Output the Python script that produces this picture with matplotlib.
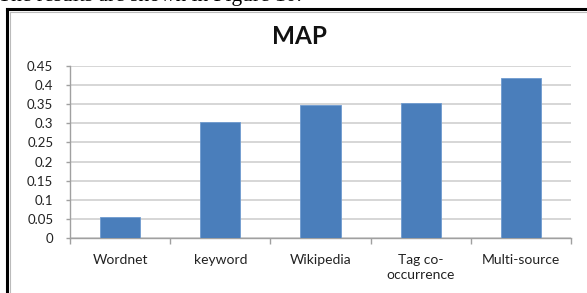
import matplotlib
matplotlib.use("Agg")
import matplotlib.pyplot as plt
from matplotlib.lines import Line2D
import numpy as np

categories = ["Wordnet", "keyword", "Wikipedia", "Tag co-\noccurrence", "Multi-source"]
values = [0.055, 0.303, 0.347, 0.354, 0.418]
yticks = [0, 0.05, 0.1, 0.15, 0.2, 0.25, 0.3, 0.35, 0.4, 0.45]
ytick_labels = ["0", "0.05", "0.1", "0.15", "0.2", "0.25", "0.3", "0.35", "0.4", "0.45"]

W, H = 587, 293
fig = plt.figure(figsize=(W / 100, H / 100), dpi=100)
fig.patch.set_facecolor("white")

ax = fig.add_axes([70 / W, 1 - 238 / H, (571 - 70) / W, (238 - 66) / H])
x = np.arange(len(categories))
ax.bar(x, values, width=0.4, color="#4a7ebb", edgecolor="#6f9bd0", linewidth=0.6, zorder=3)
ax.set_xlim(-0.5, len(categories) - 0.5)
ax.set_ylim(0, 0.45)
ax.set_yticks(yticks)
ax.set_yticklabels(ytick_labels)
ax.set_xticks(x)
ax.set_xticklabels(categories, linespacing=1.3)
ax.set_xticks(np.arange(-0.5, len(categories), 1.0), minor=True)

fnt = "Lato"
for lab in ax.get_xticklabels():
    lab.set_fontfamily(fnt)
    lab.set_fontsize(10)
    lab.set_color("#222222")
for lab in ax.get_yticklabels():
    lab.set_fontfamily(fnt)
    lab.set_fontsize(9.5)
    lab.set_color("#222222")

ax.tick_params(axis="x", which="major", length=0, pad=11.5)
ax.tick_params(axis="x", which="minor", length=4, color="#a0a0a0", width=1)
ax.tick_params(axis="y", length=3, color="#a0a0a0", width=1, pad=9)
ax.grid(axis="y", color="#d0d0d0", linewidth=1.2, zorder=0)
for s in ["top", "right"]:
    ax.spines[s].set_visible(False)
ax.spines["left"].set_color("#a0a0a0")
ax.spines["bottom"].set_color("#a0a0a0")
ax.spines["left"].set_linewidth(1)
ax.spines["bottom"].set_linewidth(1)

fig.text(299 / W, 1 - 36 / H, "MAP", ha="center", va="center",
         fontsize=17.5, fontweight="bold", fontfamily=fnt, color="#111111")

# caption text from surrounding document, clipped at top
fig.text(-2 / W, 1 - 1.5 / H, "The results are shown in Figure 10.", ha="left",
         va="baseline", fontsize=15.5, fontfamily="Liberation Serif", color="black")

# frame border
fig.add_artist(Line2D([7 / W, 1.0], [1 - 9 / H, 1 - 9 / H], color="black", linewidth=2.2,
                      transform=fig.transFigure))
fig.add_artist(Line2D([7 / W, 7 / W], [0, 1 - 9 / H], color="black", linewidth=2.2,
                      transform=fig.transFigure))
fig.add_artist(Line2D([9.5 / W, 1.0], [1 - 11.5 / H, 1 - 11.5 / H], color="#bbbbbb", linewidth=0.8,
                      transform=fig.transFigure))
fig.add_artist(Line2D([9.5 / W, 9.5 / W], [0, 1 - 11.5 / H], color="#bbbbbb", linewidth=0.8,
                      transform=fig.transFigure))

fig.savefig("out.png", dpi=100, facecolor="white")
